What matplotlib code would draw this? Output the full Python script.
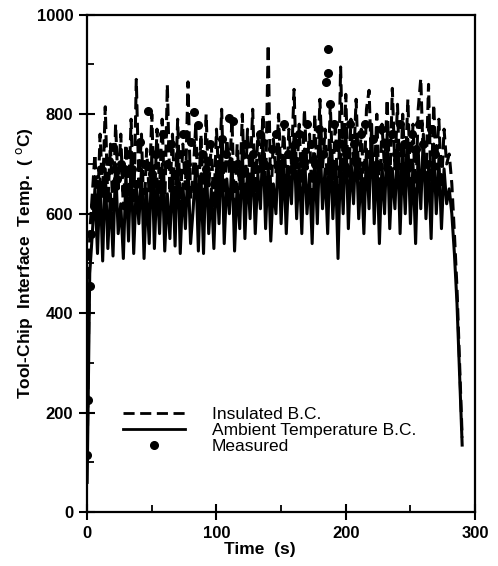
import matplotlib
matplotlib.use("Agg")
import matplotlib.pyplot as plt
from matplotlib.lines import Line2D
from matplotlib.ticker import MultipleLocator

plt.rcParams["font.family"] = ["Liberation Sans", "DejaVu Sans"]

# simulation time grid (s)
time = [
    0, 2, 4, 6, 8, 10, 12, 14, 16, 18, 20, 22, 24, 26, 28, 30, 32, 34, 36, 38,
    40, 42, 44, 46, 48, 50, 52, 54, 56, 58, 60, 62, 64, 66, 68, 70, 72, 74, 76, 78,
    80, 82, 84, 86, 88, 90, 92, 94, 96, 98, 100, 102, 104, 106, 108, 110, 112, 114, 116, 118,
    120, 122, 124, 126, 128, 130, 132, 134, 136, 138, 140, 142, 144, 146, 148, 150, 152, 154, 156, 158,
    160, 162, 164, 166, 168, 170, 172, 174, 176, 178, 180, 182, 184, 186, 188, 190, 192, 194, 196, 198,
    200, 202, 204, 206, 208, 210, 212, 214, 216, 218, 220, 222, 224, 226, 228, 230, 232, 234, 236, 238,
    240, 242, 244, 246, 248, 250, 252, 254, 256, 258, 260, 262, 264, 266, 268, 270, 272, 274, 276, 278,
    280, 282, 284, 286, 288, 290,
]

# ambient temperature B.C. (solid)
ambient = [
    60, 480, 560,
    650, 520, 670, 505, 690, 530, 640, 515, 700, 560,
    620, 510, 680, 545, 710, 520, 660, 580, 690, 510,
    650, 540, 720, 530, 670, 560, 700, 525, 640, 550,
    690, 535, 730, 520, 660, 570, 700, 540,
    610, 700, 525, 680, 520, 720, 560, 650, 530, 690,
    580, 740, 540, 670, 600, 710, 525, 660, 570, 730,
    550, 690, 590, 720, 560, 680, 610, 750, 570, 700,
    545, 660, 600, 740, 580, 710, 560, 690, 620, 760,
    590, 700, 560, 730, 600, 680, 540, 720, 580, 760,
    610, 690, 560, 740, 590, 700, 510, 720, 600, 770,
    570, 710, 620, 750, 590, 690, 560, 730, 610, 780,
    580, 720, 540, 700, 600, 760, 570, 690, 610, 740,
    560, 720, 600, 750, 580, 700, 540, 730, 610, 760,
    590, 700, 550, 740, 600, 710, 570, 690, 620, 650,
    600,
    520, 420, 280, 135,
]

# insulated B.C. (dashed)
insulated = [
    100, 560, 640,
    720, 600, 760, 640, 815, 620, 740, 600, 780, 650,
    760, 610, 740, 630, 790, 600, 870, 660, 760, 590,
    730, 640, 800, 620, 770, 650, 790, 610, 860, 640,
    760, 620, 790, 610, 740, 650, 865, 630,
    680, 780, 620, 760, 600, 800, 650, 740, 610, 770,
    660, 810, 620, 750, 680, 790, 600, 740, 650, 800,
    630, 770, 670, 810, 640, 760, 690, 800, 650, 940,
    620, 750, 680, 800, 660, 780, 640, 770, 700, 850,
    670, 780, 640, 810, 690, 760, 620, 800, 660, 830,
    690, 770, 640, 820, 670, 790, 600, 895, 680, 840,
    650, 790, 700, 830, 670, 770, 640, 810, 848, 690,
    660, 800, 620, 780, 690, 830, 650, 852, 690, 820,
    640, 800, 680, 830, 660, 780, 620, 810, 872, 700,
    670, 860, 630, 820, 690, 790, 650, 770, 700, 720,
    660,
    560, 450, 300, 150,
]

# measured values
meas_t = [
    0, 1, 2, 3, 5, 8, 11, 14, 17, 20, 23, 26, 29, 32, 35, 38, 41, 44, 47, 50,
    53, 56, 59, 62, 65, 68, 71, 74, 77, 80, 83, 86, 89, 92, 95, 98, 101, 104, 107, 110,
    113, 116, 119, 122, 125, 128, 131, 134, 137, 140, 143, 146, 149, 152, 155, 158, 161, 164, 167, 170,
    173, 176, 179, 182, 185, 186, 186.5, 188, 191, 194, 197, 200, 203, 206, 209, 212, 215, 218, 221, 224,
    227, 230, 233, 236, 239, 242, 245, 248, 251, 254, 257, 260, 263, 266, 269,
]
meas_v = [
    115, 225, 455, 560, 615, 660, 690, 640, 705, 735, 670, 700, 650, 720, 690, 660, 745, 700, 806, 680,
    720, 650, 760, 700, 740, 680, 720, 760, 700, 745, 804, 778, 720, 690, 740, 660, 700, 750, 720, 792,
    786, 700, 680, 740, 660, 720, 690, 760, 700, 650, 730, 760, 700, 780, 720, 690, 740, 760, 700, 780,
    740, 700, 770, 720, 865, 932, 882, 820, 780, 740, 760, 720, 780, 740, 700, 760, 780, 720, 750, 700,
    770, 740, 690, 760, 720, 780, 740, 700, 760, 730, 780, 740, 700, 770, 720,
]

fig = plt.figure(figsize=(4.98, 5.66), dpi=100)
ax = fig.add_axes([0.175, 0.095, 0.779, 0.879])

ax.plot(time, insulated, color="black", lw=2.2, ls=(0, (4, 2)))
ax.plot(time, ambient, color="black", lw=2.2)
ax.plot(meas_t, meas_v, "o", color="black", ms=5.5)

ax.set_xlim(0, 300)
ax.set_ylim(0, 1000)
ax.xaxis.set_major_locator(MultipleLocator(100))
ax.xaxis.set_minor_locator(MultipleLocator(50))
ax.yaxis.set_major_locator(MultipleLocator(200))
ax.yaxis.set_minor_locator(MultipleLocator(100))
ax.tick_params(which="major", direction="inout", length=12, width=1.5,
               labelsize=12, pad=4, top=False, right=False)
ax.tick_params(which="minor", direction="in", length=5, width=1.3,
               top=False, right=False)
for lab in ax.get_xticklabels() + ax.get_yticklabels():
    lab.set_fontweight("bold")
for s in ax.spines.values():
    s.set_linewidth(1.6)

ax.set_xlabel("Time  (s)", fontsize=12.5, fontweight="bold")
ax.xaxis.set_label_coords(0.445, -0.06)
ax.set_ylabel("Tool-Chip  Interface  Temp.  ( $^{\\mathrm{o}}$C)", fontsize=12.5,
              fontweight="bold")
ax.yaxis.set_label_coords(-0.135, 0.5)

handles = [
    Line2D([], [], color="black", lw=2.0, ls=(0, (4, 2))),
    Line2D([], [], color="black", lw=2.0),
    Line2D([], [], color="black", marker="o", ls="none", ms=5.5),
]
labels = ["Insulated B.C.", "Ambient Temperature B.C.", "Measured"]
ax.legend(handles, labels, loc="lower left", bbox_to_anchor=(0.07, 0.10),
          frameon=False, fontsize=12.5, handlelength=3.6, handletextpad=1.5,
          labelspacing=0.05, borderpad=0)

fig.savefig("out.png", dpi=100)
